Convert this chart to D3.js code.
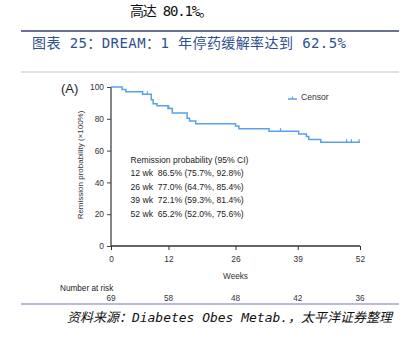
<!DOCTYPE html>
<html>
<head>
<meta charset="utf-8">
<script src="https://cdn.jsdelivr.net/npm/d3@7"></script>
<style>
  body { margin: 0; background: #fff; }
  svg { display: block; }
</style>
</head>
<body>
<div class="chart"></div>
<script>
// Kaplan-Meier steps (week, remission %)
var stepWeeks = [0, 2.3, 3.1, 6.6, 8.4, 8.8, 9.6, 11.9, 12.8, 15.9, 16.4, 17.7, 26.0, 26.7, 33.0, 39.2, 40.8, 41.3, 43.8, 52];
var stepProb  = [100, 98.5, 97.0, 95.5, 92.0, 89.5, 88.2, 86.5, 83.6, 80.4, 78.6, 76.9, 75.4, 73.7, 72.2, 70.4, 68.9, 67.0, 65.2, 65.2];
var censorWeeks = [7.6, 12.1, 35.4, 49.2, 50.2, 51.8];

var xTicks = [0, 12, 26, 39, 52];
var yTicks = [0, 20, 40, 60, 80, 100];
var atRisk = [69, 58, 48, 42, 36];

var ciLines = [
  "Remission probability (95% CI)",
  "12 wk  86.5% (75.7%, 92.8%)",
  "26 wk  77.0% (64.7%, 85.4%)",
  "39 wk  72.1% (59.3%, 81.4%)",
  "52 wk  65.2% (52.0%, 75.6%)"
];

var svgWidth = 406, svgHeight = 339;
var svg = d3.select(".chart").append("svg")
  .attr("width", svgWidth)
  .attr("height", svgHeight);

var monoCjk = "'DejaVu Sans Mono', 'Noto Sans CJK SC', monospace";

// report header text
svg.append("text")
  .attr("x", 130).attr("y", 16)
  .attr("font-family", monoCjk)
  .attr("font-size", 14)
  .attr("fill", "#111")
  .attr("textLength", 83)
  .attr("lengthAdjust", "spacing")
  .text("高达 80.1%。");

svg.append("line")
  .attr("x1", 21).attr("x2", 399).attr("y1", 31).attr("y2", 31)
  .attr("stroke", "#6b6f9a").attr("stroke-width", 2);

svg.append("text")
  .attr("x", 32).attr("y", 48)
  .attr("font-family", monoCjk)
  .attr("font-size", 14)
  .attr("fill", "#2f4f8f")
  .attr("textLength", 314)
  .attr("lengthAdjust", "spacing")
  .text("图表 25：DREAM：1 年停药缓解率达到 62.5%");

// frame lines around the figure
svg.append("line")
  .attr("x1", 21).attr("x2", 399).attr("y1", 72).attr("y2", 72)
  .attr("stroke", "#d6d6e2").attr("stroke-width", 1.5);
svg.append("line")
  .attr("x1", 21).attr("x2", 399).attr("y1", 304).attr("y2", 304)
  .attr("stroke", "#a4a6c2").attr("stroke-width", 1.5);

// plot area
var margin = { left: 111, top: 87 };
var width = 249, height = 159;

var chartGroup = svg.append("g")
  .attr("transform", `translate(${margin.left}, ${margin.top})`);

var xScale = d3.scaleLinear().domain([0, 52]).range([0, width]);
var yScale = d3.scaleLinear().domain([0, 100]).range([height, 0]);

var font = "'Liberation Sans', Arial, sans-serif";

var leftAxis = d3.axisLeft(yScale).tickValues(yTicks).tickSize(4).tickPadding(3);
var bottomAxis = d3.axisBottom(xScale).tickValues(xTicks).tickSize(4).tickPadding(6);

var yAxisG = chartGroup.append("g").call(leftAxis);
yAxisG.select(".domain").attr("stroke", "#666").attr("stroke-width", 1.6)
  .attr("d", `M0,0V${height}`);
yAxisG.selectAll(".tick line").attr("stroke", "#444");
yAxisG.selectAll("text").attr("font-family", font).attr("font-size", 8.4).attr("fill", "#333");

var xAxisG = chartGroup.append("g")
  .attr("transform", `translate(0, ${height})`)
  .call(bottomAxis);
xAxisG.select(".domain").attr("stroke", "#333").attr("stroke-width", 1.4)
  .attr("d", `M0,0H${width}`);
xAxisG.selectAll(".tick line").attr("stroke", "#333");
xAxisG.selectAll("text").attr("font-family", font).attr("font-size", 8.4).attr("fill", "#333");

// KM curve
var kmData = stepWeeks.map((w, i) => ({ w: w, p: stepProb[i] }));
var line = d3.line()
  .x(d => xScale(d.w))
  .y(d => yScale(d.p))
  .curve(d3.curveStepAfter);

chartGroup.append("path")
  .datum(kmData)
  .attr("fill", "none")
  .attr("stroke", "#5aa0f2")
  .attr("stroke-width", 1.5)
  .attr("d", line);

// censor marks
function probAt(w) {
  var p = stepProb[0];
  for (var i = 0; i < stepWeeks.length; i++) {
    if (stepWeeks[i] <= w) p = stepProb[i];
  }
  return p;
}
chartGroup.append("g").selectAll("line")
  .data(censorWeeks)
  .enter()
  .append("line")
  .attr("x1", d => xScale(d)).attr("x2", d => xScale(d))
  .attr("y1", d => yScale(probAt(d)))
  .attr("y2", d => yScale(probAt(d)) - 3)
  .attr("stroke", "#5aa0f2").attr("stroke-width", 1.2);

// CI annotation
chartGroup.append("g").selectAll("text")
  .data(ciLines)
  .enter()
  .append("text")
  .attr("x", 19.5)
  .attr("y", (d, i) => 75.5 + i * 13.5)
  .attr("font-family", font)
  .attr("font-size", 8.6)
  .attr("fill", "#222")
  .attr("xml:space", "preserve")
  .style("white-space", "pre")
  .text(d => d);

// legend
svg.append("line")
  .attr("x1", 288).attr("x2", 297).attr("y1", 99).attr("y2", 99)
  .attr("stroke", "#5aa0f2").attr("stroke-width", 1.5);
svg.append("line")
  .attr("x1", 292.5).attr("x2", 292.5).attr("y1", 99).attr("y2", 96.5)
  .attr("stroke", "#5aa0f2").attr("stroke-width", 1.2);
svg.append("text")
  .attr("x", 301).attr("y", 100)
  .attr("font-family", font).attr("font-size", 8.6).attr("fill", "#333")
  .text("Censor");

// panel label
svg.append("text")
  .attr("x", 61).attr("y", 93)
  .attr("font-family", font).attr("font-size", 13).attr("fill", "#222")
  .text("(A)");

// axis titles
svg.append("text")
  .attr("transform", "rotate(-90)")
  .attr("x", -165).attr("y", 83)
  .attr("text-anchor", "middle")
  .attr("font-family", font).attr("font-size", 8).attr("fill", "#333")
  .text("Remission probability (×100%)");

svg.append("text")
  .attr("x", margin.left + xScale(26)).attr("y", 279)
  .attr("text-anchor", "middle")
  .attr("font-family", font).attr("font-size", 8.2).attr("fill", "#333")
  .text("Weeks");

// number at risk
svg.append("text")
  .attr("x", 60).attr("y", 291)
  .attr("font-family", font).attr("font-size", 8.2).attr("fill", "#222")
  .text("Number at risk");

svg.append("g").selectAll("text")
  .data(atRisk)
  .enter()
  .append("text")
  .attr("x", (d, i) => margin.left + xScale(xTicks[i]))
  .attr("y", 301)
  .attr("text-anchor", "middle")
  .attr("font-family", font).attr("font-size", 8.2).attr("fill", "#333")
  .text(d => d);

// source line
svg.append("text")
  .attr("x", 67).attr("y", 322)
  .attr("font-family", monoCjk)
  .attr("font-size", 13)
  .attr("font-style", "italic")
  .attr("fill", "#111")
  .attr("textLength", 325)
  .attr("lengthAdjust", "spacing")
  .text("资料来源：Diabetes Obes Metab.，太平洋证券整理");
</script>
</body>
</html>
